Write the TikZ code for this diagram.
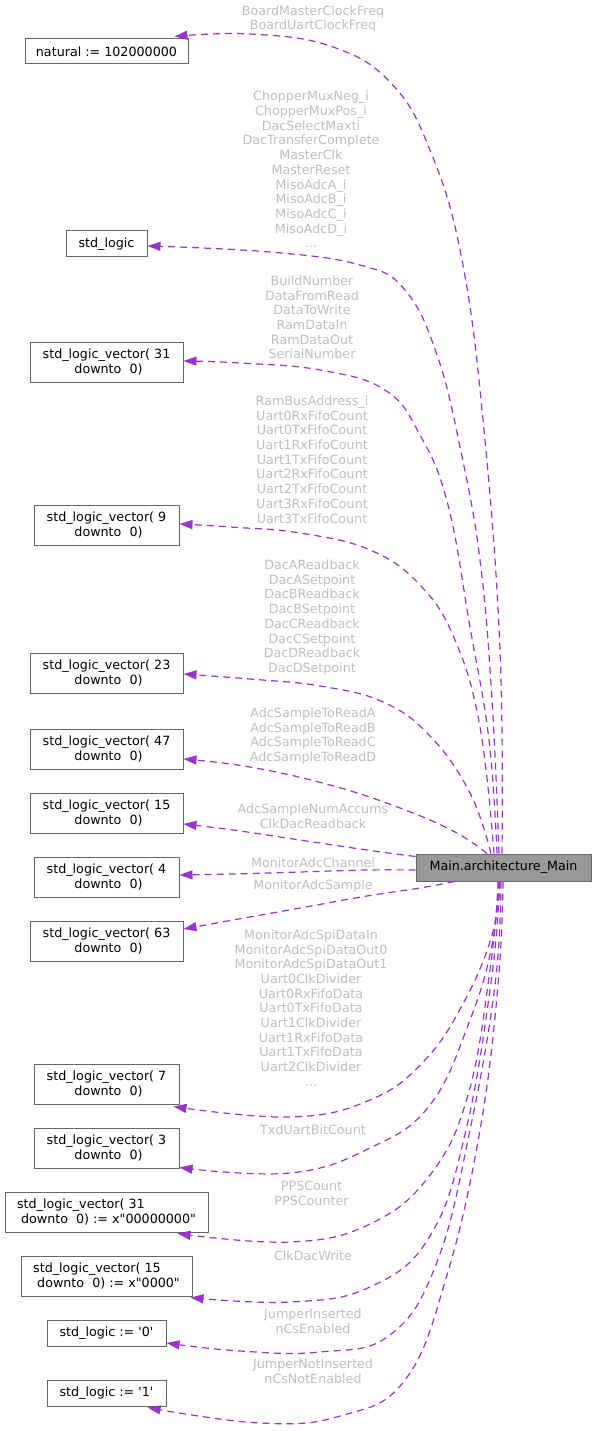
\documentclass[tikz,border=0pt]{standalone}
\usepackage{fontspec}
\setmainfont{DejaVu Sans}[Ligatures=TeXOff]
\usetikzlibrary{arrows.meta,calc}
\definecolor{edgec}{HTML}{9A32CD}
\definecolor{lblc}{HTML}{BEBEBE}
\definecolor{bordc}{HTML}{666666}
\definecolor{mainfill}{HTML}{999999}
\newcommand\dgfont{\fontsize{12.7}{14.7}\selectfont}
\begin{document}
\begin{tikzpicture}[x=1pt,y=-1pt,
  box/.style={draw=bordc,line width=1pt,fill=white,inner sep=0pt,font=\dgfont,text=black,align=center},
  lbl/.style={text=lblc,font=\dgfont,align=center,inner sep=0pt},
  edge/.style={draw=edgec,line width=1.2pt,dash pattern=on 7pt off 5pt,-{Triangle[length=13pt,width=9pt]}},
  sm/.style={smooth,tension=0.7}]
\useasboundingbox (0,0) rectangle (596,1431);
% type nodes
\node[box,minimum width=163pt,minimum height=25pt] (natural) at (106.5,51.5) {natural := 102000000};
\node[box,minimum width=81pt,minimum height=26pt] (stdlogic) at (106.5,244) {std\_logic};
\node[box,minimum width=153pt,minimum height=40pt] (slvA) at (106.5,362) {std\_logic\_vector( 31\\\mbox{}\ downto\ \ 0)};
\node[box,minimum width=145pt,minimum height=40pt] (slvB) at (106.5,525) {std\_logic\_vector( 9\\\mbox{}\ downto\ \ 0)};
\node[box,minimum width=153pt,minimum height=40pt] (slvC) at (106.5,673) {std\_logic\_vector( 23\\\mbox{}\ downto\ \ 0)};
\node[box,minimum width=153pt,minimum height=40pt] (slvD) at (106.5,749) {std\_logic\_vector( 47\\\mbox{}\ downto\ \ 0)};
\node[box,minimum width=153pt,minimum height=40pt] (slvE) at (106.5,813) {std\_logic\_vector( 15\\\mbox{}\ downto\ \ 0)};
\node[box,minimum width=145pt,minimum height=40pt] (slvF) at (106.5,877) {std\_logic\_vector( 4\\\mbox{}\ downto\ \ 0)};
\node[box,minimum width=153pt,minimum height=40pt] (slvG) at (106.5,941) {std\_logic\_vector( 63\\\mbox{}\ downto\ \ 0)};
\node[box,minimum width=145pt,minimum height=40pt] (slvH) at (106.5,1084) {std\_logic\_vector( 7\\\mbox{}\ downto\ \ 0)};
\node[box,minimum width=145pt,minimum height=40pt] (slvI) at (106.5,1148) {std\_logic\_vector( 3\\\mbox{}\ downto\ \ 0)};
\node[box,minimum width=203pt,minimum height=40pt,align=left] (slvJ) at (106.5,1212) {std\_logic\_vector( 31\\\mbox{}\ downto\ \ 0) := x"00000000"};
\node[box,minimum width=171pt,minimum height=40pt,align=left] (slvK) at (106.5,1276) {std\_logic\_vector( 15\\\mbox{}\ downto\ \ 0) := x"0000"};
\node[box,minimum width=119pt,minimum height=26pt] (slz) at (106.5,1333) {std\_logic := '0'};
\node[box,minimum width=119pt,minimum height=26pt] (slo) at (106.5,1393) {std\_logic := '1'};
% main node
\node[box,fill=mainfill,minimum width=175pt,minimum height=27pt] (main) at (503.5,867.5) {Main.architecture\_Main};
% labels
\node[lbl] (l1) at (313,19) {BoardMasterClockFreq\\BoardUartClockFreq};
\node[lbl] (l2) at (311,169.5) {ChopperMuxNeg\_i\\ChopperMuxPos\_i\\DacSelectMaxti\\DacTransferComplete\\MasterClk\\MasterReset\\MisoAdcA\_i\\MisoAdcB\_i\\MisoAdcC\_i\\MisoAdcD\_i\\...};
\node[lbl] (l3) at (312,317.5) {BuildNumber\\DataFromRead\\DataToWrite\\RamDataIn\\RamDataOut\\SerialNumber};
\node[lbl] (l4) at (312,459.5) {RamBusAddress\_i\\Uart0RxFifoCount\\Uart0TxFifoCount\\Uart1RxFifoCount\\Uart1TxFifoCount\\Uart2RxFifoCount\\Uart2TxFifoCount\\Uart3RxFifoCount\\Uart3TxFifoCount};
\node[lbl] (l5) at (312,617.5) {DacAReadback\\DacASetpoint\\DacBReadback\\DacBSetpoint\\DacCReadback\\DacCSetpoint\\DacDReadback\\DacDSetpoint};
\node[lbl] (l6) at (313,736) {AdcSampleToReadA\\AdcSampleToReadB\\AdcSampleToReadC\\AdcSampleToReadD};
\node[lbl] (l7) at (313,816) {AdcSampleNumAccums\\ClkDacReadback};
\node[lbl] (l8) at (313,863) {MonitorAdcChannel};
\node[lbl] (l9) at (313,886) {MonitorAdcSample};
\node[lbl] (l10) at (311,1008) {MonitorAdcSpiDataIn\\MonitorAdcSpiDataOut0\\MonitorAdcSpiDataOut1\\Uart0ClkDivider\\Uart0RxFifoData\\Uart0TxFifoData\\Uart1ClkDivider\\Uart1RxFifoData\\Uart1TxFifoData\\Uart2ClkDivider\\...};
\node[lbl] (l11) at (313,1130) {TxdUartBitCount};
\node[lbl] (l12) at (311.5,1193.5) {PPSCount\\PPSCounter};
\node[lbl] (l13) at (313,1256) {ClkDacWrite};
\node[lbl] (l14) at (313,1321) {JumperInserted\\nCsEnabled};
\node[lbl] (l15) at (313,1371.5) {JumperNotInserted\\nCsNotEnabled};
% edge end points
\coordinate (s1) at ($(main.north)+(-1.5,0)$);
\coordinate (s2) at ($(main.north)+(-4.5,0)$);
\coordinate (s3) at ($(main.north)+(-6.5,0)$);
\coordinate (s4) at ($(main.north)+(-9.5,0)$);
\coordinate (s5) at ($(main.north)+(-12.5,0)$);
\coordinate (s6) at ($(main.north)+(-16.5,0)$);
\coordinate (s7) at ($(main.north west)+(0,3)$);
\coordinate (s8) at ($(main.west)+(0,2.5)$);
\coordinate (s9) at ($(main.south west)+(39,0)$);
\coordinate (s10) at ($(main.south)+(-3.5,0)$);
\coordinate (s11) at ($(main.south)+(-5.5,0)$);
\coordinate (s12) at ($(main.south)+(-5,0)$);
\coordinate (s13) at ($(main.south)+(-4,0)$);
\coordinate (s14) at ($(main.south)+(-2.5,0)$);
\coordinate (s15) at ($(main.south)+(-0.5,0)$);
\coordinate (t1) at ($(natural.north east)+(-14,-2)$);
\coordinate (t2) at ($(stdlogic.east)+(0,2)$);
\coordinate (t3) at ($(slvA.east)+(0,-1)$);
\coordinate (t4) at ($(slvB.east)+(0,-1)$);
\coordinate (t5) at ($(slvC.east)+(0,1)$);
\coordinate (t6) at ($(slvD.east)+(0,10)$);
\coordinate (t7) at ($(slvE.east)+(0,11)$);
\coordinate (t8) at ($(slvF.east)+(0,-2)$);
\coordinate (t9) at ($(slvG.east)+(0,-12)$);
\coordinate (t10) at ($(slvH.south east)+(-6,2)$);
\coordinate (t11) at ($(slvI.south east)+(0,-1)$);
\coordinate (t12) at ($(slvJ.south east)+(-31,1)$);
\coordinate (t13) at ($(slvK.south east)+(-2,1)$);
\coordinate (t14) at ($(slz.east)+(0,10)$);
\coordinate (t15) at ($(slo.south east)+(-19,1)$);
% edges
\draw[edge] plot[sm] coordinates {(s1) (500,650) (484,430) (462,260) (430,150) (390,82) (330,46) (250,34) (t1)};
\draw[edge] plot[sm] coordinates {(s2) (492,700) (480,560) (460,447) (437,355) (405,290) (360,265) (270,252) (t2)};
\draw[edge] plot[sm] coordinates {(s3) (489,740) (470,627) (448,505) (420,435) (385,390) (320,370) (240,363) (t3)};
\draw[edge] plot[sm] coordinates {(s4) (480,727) (455,640) (420,585) (370,550) (300,533) (230,527) (t4)};
\draw[edge] plot[sm] coordinates {(s5) (470,793) (430,736) (383,702) (320,686) (250,679) (t5)};
\draw[edge] plot[sm] coordinates {(s6) (455,832) (400,808) (330,785) (250,767) (t6)};
\draw[edge] plot[sm] coordinates {(s7) (367,850) (300,840) (233,830) (t7)};
\draw[edge] plot[sm] coordinates {(s8) (367,870) (300,872) (233,874) (t8)};
\draw[edge] plot[sm] coordinates {(s9) (420,888) (367,896) (300,908) (233,920) (t9)};
\draw[edge] plot[sm] coordinates {(s10) (492,935) (465,1000) (425,1060) (370,1100) (290,1117) (t10)};
\draw[edge] plot[sm] coordinates {(s11) (492,945) (470,1020) (430,1105) (370,1148) (290,1173) (t11)};
\draw[edge] plot[sm] coordinates {(s12) (490,970) (468,1095) (430,1175) (370,1224) (290,1242) (t12)};
\draw[edge] plot[sm] coordinates {(s13) (492,975) (466,1130) (430,1236) (370,1287) (290,1302) (t13)};
\draw[edge] plot[sm] coordinates {(s14) (495,985) (470,1130) (437,1262) (390,1335) (320,1352) (240,1351) (t14)};
\draw[edge] plot[sm] coordinates {(s15) (498,985) (480,1130) (447,1275) (405,1380) (340,1416) (260,1423) (t15)};
\end{tikzpicture}
\end{document}
